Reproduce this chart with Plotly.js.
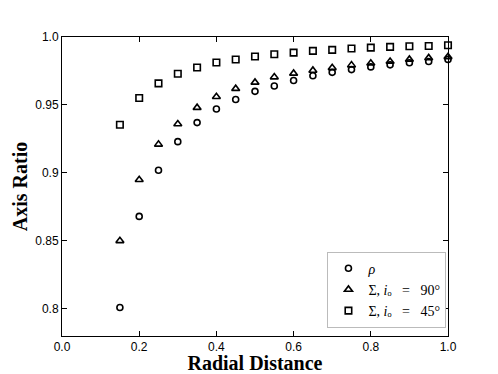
<!DOCTYPE html>
<html>
<head>
<meta charset="utf-8">
<script src="https://cdn.plot.ly/plotly-3.0.1.min.js"></script>
<style>
  html, body { margin: 0; padding: 0; background: #fff; }
  #chart { width: 498px; height: 374px; }
</style>
</head>
<body>
<div id="chart"></div>
<script>
const radius = [0.15, 0.2, 0.25, 0.3, 0.35, 0.4, 0.45, 0.5, 0.55, 0.6,
  0.65, 0.7, 0.75, 0.8, 0.85, 0.9, 0.95, 1.0];

const rhoRatio = [0.801, 0.868, 0.902, 0.923, 0.937, 0.947, 0.954, 0.960, 0.964, 0.968,
  0.9715, 0.974, 0.976, 0.978, 0.9795, 0.981, 0.982, 0.9835];

const sigma90Ratio = [0.850, 0.895, 0.921, 0.936, 0.948, 0.956, 0.962, 0.9666, 0.9705, 0.9732,
  0.9754, 0.9773, 0.9793, 0.9807, 0.982, 0.9835, 0.9846, 0.9854];

const sigma45Ratio = [0.9354, 0.9551, 0.9659, 0.973, 0.9776, 0.9812, 0.9834, 0.9856, 0.9873, 0.9885,
  0.9898, 0.9905, 0.9915, 0.9922, 0.9927, 0.9932, 0.9934, 0.9939];

// unicode subscript o keeps legend rows evenly spaced (a <sub> tag makes them taller)
const seriesNames = [
  '<i>ρ</i>',
  'Σ,&nbsp;<i>i</i>ₒ&nbsp;&nbsp;&nbsp;=&nbsp;&nbsp;&nbsp;90°',
  'Σ,&nbsp;<i>i</i>ₒ&nbsp;&nbsp;&nbsp;=&nbsp;&nbsp;&nbsp;45°'
];

const yTickVals = [0.8, 0.85, 0.9, 0.95, 1.0];
const yTickText = ['0.8', '0.85', '0.9', '0.95', '1.0'];
const xTickVals = [0, 0.2, 0.4, 0.6, 0.8, 1.0];
const xTickText = ['0.0', '0.2', '0.4', '0.6', '0.8', '1.0'];

function markerTrace(y, name, symbol, size) {
  return {
    type: 'scatter',
    mode: 'markers',
    name: name,
    x: radius,
    y: y,
    cliponaxis: false,
    marker: {
      symbol: symbol,
      size: size,
      color: '#000',
      line: { color: '#000', width: 1.6 }
    }
  };
}

const traces = [
  markerTrace(rhoRatio, seriesNames[0], 'circle-open', 6),
  markerTrace(sigma90Ratio, seriesNames[1], 'triangle-up-open', 7),
  markerTrace(sigma45Ratio, seriesNames[2], 'square-open', 6.5)
];

const axisCommon = {
  showgrid: false,
  zeroline: false,
  showline: true,
  linecolor: '#000',
  linewidth: 1,
  mirror: 'ticks',
  ticks: 'inside',
  ticklen: 5,
  tickwidth: 1,
  tickcolor: '#000',
  tickfont: { family: 'Liberation Sans, Arial, sans-serif', size: 12, color: '#000' }
};

const titleFont = { family: 'Liberation Serif, DejaVu Serif, serif', size: 20, color: '#000' };

const layout = {
  width: 498,
  height: 374,
  paper_bgcolor: '#fff',
  plot_bgcolor: '#fff',
  margin: { l: 62, r: 50, t: 37, b: 38 },
  showlegend: true,
  legend: {
    x: 0.996, y: 0.028, xanchor: 'right', yanchor: 'bottom',
    bgcolor: '#fff',
    bordercolor: '#bbb',
    borderwidth: 1,
    font: { family: 'Liberation Serif, DejaVu Serif, serif', size: 14, color: '#000' },
    tracegroupgap: 0,
    itemwidth: 30
  },
  xaxis: {
    ...axisCommon,
    range: [0, 1.0],
    tickvals: xTickVals,
    ticktext: xTickText,
    title: { text: '<b>Radial Distance</b>', font: titleFont, standoff: 10 }
  },
  yaxis: {
    ...axisCommon,
    range: [0.78, 1.0],
    tickvals: yTickVals,
    ticktext: yTickText,
    title: { text: '<b>Axis Ratio</b>', font: titleFont, standoff: 2 }
  }
};

Plotly.newPlot('chart', traces, layout, { displayModeBar: false, staticPlot: true });
</script>
</body>
</html>
